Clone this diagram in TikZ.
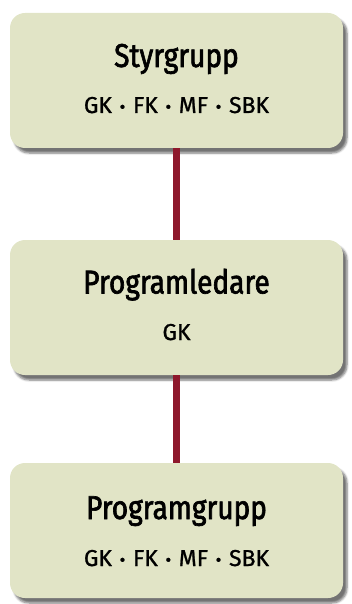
\documentclass[tikz,border=0pt]{standalone}
\usepackage{fontspec}
\setmainfont{Fira Sans}
\newfontfamily\headfont{Fira Sans}[FakeStretch=0.85,FakeBold=2]
\newfontfamily\subfont{Fira Sans}[FakeStretch=1.0,FakeBold=1]
\usetikzlibrary{shadows.blur}
\definecolor{boxfill}{RGB}{225,228,198}
\definecolor{linkred}{RGB}{142,24,44}
\newcommand{\dotsep}{\hspace{0.33em}{\fontsize{18}{18}\selectfont•}\hspace{0.33em}}
\tikzset{
  orgbox/.style={draw=none,fill=boxfill,rounded corners=15pt,
    minimum width=333pt,minimum height=135pt,
    blur shadow={shadow xshift=4pt,shadow yshift=-5pt,shadow blur steps=6,shadow opacity=55}},
  headtext/.style={anchor=base,inner sep=0pt,font=\headfont\fontsize{33}{38}\selectfont},
  subtext/.style={anchor=base,inner sep=0pt,font=\subfont\fontsize{23}{27}\selectfont},
  orglink/.style={linkred,line width=7pt}
}
\begin{document}
\begin{tikzpicture}[x=1pt,y=-1pt]
        \useasboundingbox (0,0) rectangle (351,604);
        % boxes
        \node[orgbox] (styr) at (176.5,80.5) {};
        \node[orgbox] (ledare) at (176.5,307.5) {};
        \node[orgbox] (grupp) at (176.5,530.5) {};
        % texts
        \node[headtext] (styr-t) at ([yshift=13.5pt]styr.center) {Styrgrupp};
        \node[subtext] (styr-s) at ([yshift=-32.5pt]styr.center) {GK\dotsep FK\dotsep MF\dotsep SBK};
        \node[headtext] (ledare-t) at ([yshift=14pt]ledare.center) {Programledare};
        \node[subtext] (ledare-s) at ([yshift=-32.5pt]ledare.center) {GK};
        \node[headtext] (grupp-t) at ([yshift=11.5pt]grupp.center) {Programgrupp};
        \node[subtext] (grupp-s) at ([yshift=-35.5pt]grupp.center) {GK\dotsep FK\dotsep MF\dotsep SBK};
        % links
        \draw[orglink] (styr.south) -- (ledare.north);
        \draw[orglink] (ledare.south) -- (grupp.north);
        \end{tikzpicture}
\end{document}
